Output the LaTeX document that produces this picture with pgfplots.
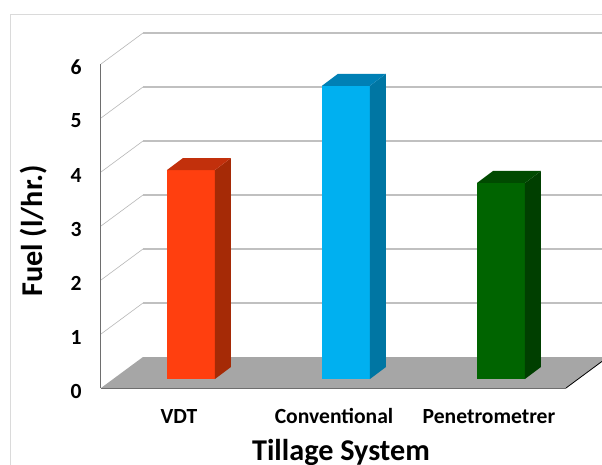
\documentclass[border=0pt]{standalone}
\usepackage{pgfplots}
\pgfplotsset{compat=1.18}
\usepackage{fontspec}
\setmainfont{Carlito}
\definecolor{fr}{HTML}{DADADA}
\definecolor{gr}{HTML}{C0C0C0}
\definecolor{gs}{HTML}{B8B8B8}
\definecolor{floorc}{HTML}{A6A6A6}
\definecolor{axc}{HTML}{6E6E6E}
\definecolor{ofront}{HTML}{FF3F0F}\definecolor{oside}{HTML}{A52A06}\definecolor{otop}{HTML}{C2300C}
\definecolor{bfront}{HTML}{00B0F0}\definecolor{bside}{HTML}{0076A3}\definecolor{btop}{HTML}{0080B5}
\definecolor{gfront}{HTML}{006400}\definecolor{gside}{HTML}{003F00}\definecolor{gtop}{HTML}{004A00}
\begin{document}
\begin{tikzpicture}[x=1pt,y=1pt]
\path[use as bounding box, clip] (0,0) rectangle (602,464);
\fill[white] (0,0) rectangle (602,464);
\draw[fr,line width=0.9pt] (10.5,-5) -- (10.5,449.5) -- (610,449.5);
\begin{axis}[
  at={(101pt,76pt)},anchor=south west,
  scale only axis,width=465pt,height=324pt,
  xmin=-0.5806,xmax=2.4194,ymin=0,ymax=6,
  clip=false,
  axis line style={draw=none},
  xtick={-0.0774,0.9226,1.9226},
  xticklabels={VDT,Conventional,Penetrometrer},
  ytick={0,1,2,3,4,5,6},
  major tick length=0pt,
  tick label style={font=\fontsize{21.6}{24}\selectfont\bfseries},
  /pgf/number format/assume math mode=true,
  xticklabel style={yshift=-18pt,text height=14pt,text depth=0pt},
  yticklabel style={xshift=-16pt,yshift=-3pt},
  xlabel={Tillage System},
  ylabel={Fuel (l/hr.)},
  label style={font=\fontsize{30.2}{34}\selectfont\bfseries},
  xlabel style={at={(axis description cs:0.516,0)},anchor=center,yshift=-64pt},
  ylabel style={at={(axis description cs:0,0.5)},anchor=center,xshift=-5pt,yshift=67pt},
]
% floor
\addplot[fill=floorc,draw=none] coordinates {(-0.5806,0) (-0.3097,0.5741) (2.6516,0.5741) (2.6516,0.4926) (2.4194,0)} -- cycle;
\addplot[axc,line width=0.9pt] coordinates {(-0.5806,0) (2.4194,0)};
\addplot[black,line width=0.8pt] coordinates {(2.4194,0) (2.6516,0.4926)};
\addplot[axc,line width=1pt] coordinates {(-0.5806,0) (-0.5806,6)};
% side walls and back wall grid lines
\addplot[gs,line width=0.6pt] coordinates {(-0.5806,1) (-0.3097,1.5741)};
\addplot[gs,line width=0.6pt] coordinates {(-0.5806,2) (-0.3097,2.5741)};
\addplot[gs,line width=0.6pt] coordinates {(-0.5806,3) (-0.3097,3.5741)};
\addplot[gs,line width=0.6pt] coordinates {(-0.5806,4) (-0.3097,4.5741)};
\addplot[gs,line width=0.6pt] coordinates {(-0.5806,5) (-0.3097,5.5741)};
\addplot[gs,line width=0.6pt] coordinates {(-0.5806,6) (-0.3097,6.5741)};
\addplot[gr,line width=1.1pt] coordinates {(-0.3097,1.5741) (2.6516,1.5741)};
\addplot[gr,line width=1.1pt] coordinates {(-0.3097,2.5741) (2.6516,2.5741)};
\addplot[gr,line width=1.1pt] coordinates {(-0.3097,3.5741) (2.6516,3.5741)};
\addplot[gr,line width=1.1pt] coordinates {(-0.3097,4.5741) (2.6516,4.5741)};
\addplot[gr,line width=1.1pt] coordinates {(-0.3097,5.5741) (2.6516,5.5741)};
\addplot[gr,line width=1.1pt] coordinates {(-0.3097,6.5741) (2.6516,6.5741)};
% VDT
\addplot[ybar,bar width=48pt,bar shift=0pt,fill=ofront,draw=none,yshift=9pt] coordinates {(0,3.87)};
\addplot[fill=oside,draw=none,yshift=9pt] coordinates {(0.1548,0) (0.2580,0.2222) (0.2580,4.0922) (0.1548,3.87)} -- cycle;
\addplot[fill=otop,draw=none,yshift=9pt] coordinates {(-0.1548,3.87) (-0.0516,4.0922) (0.2580,4.0922) (0.1548,3.87)} -- cycle;
% Conventional
\addplot[ybar,bar width=48pt,bar shift=0pt,fill=bfront,draw=none,yshift=9pt] coordinates {(1,5.43)};
\addplot[fill=bside,draw=none,yshift=9pt] coordinates {(1.1548,0) (1.2580,0.2222) (1.2580,5.6522) (1.1548,5.43)} -- cycle;
\addplot[fill=btop,draw=none,yshift=9pt] coordinates {(0.8452,5.43) (0.9484,5.6522) (1.2580,5.6522) (1.1548,5.43)} -- cycle;
% Penetrometrer
\addplot[ybar,bar width=48pt,bar shift=0pt,fill=gfront,draw=none,yshift=9pt] coordinates {(2,3.63)};
\addplot[fill=gside,draw=none,yshift=9pt] coordinates {(2.1548,0) (2.2580,0.2222) (2.2580,3.8522) (2.1548,3.63)} -- cycle;
\addplot[fill=gtop,draw=none,yshift=9pt] coordinates {(1.8452,3.63) (1.9484,3.8522) (2.2580,3.8522) (2.1548,3.63)} -- cycle;
\end{axis}
\end{tikzpicture}
\end{document}
